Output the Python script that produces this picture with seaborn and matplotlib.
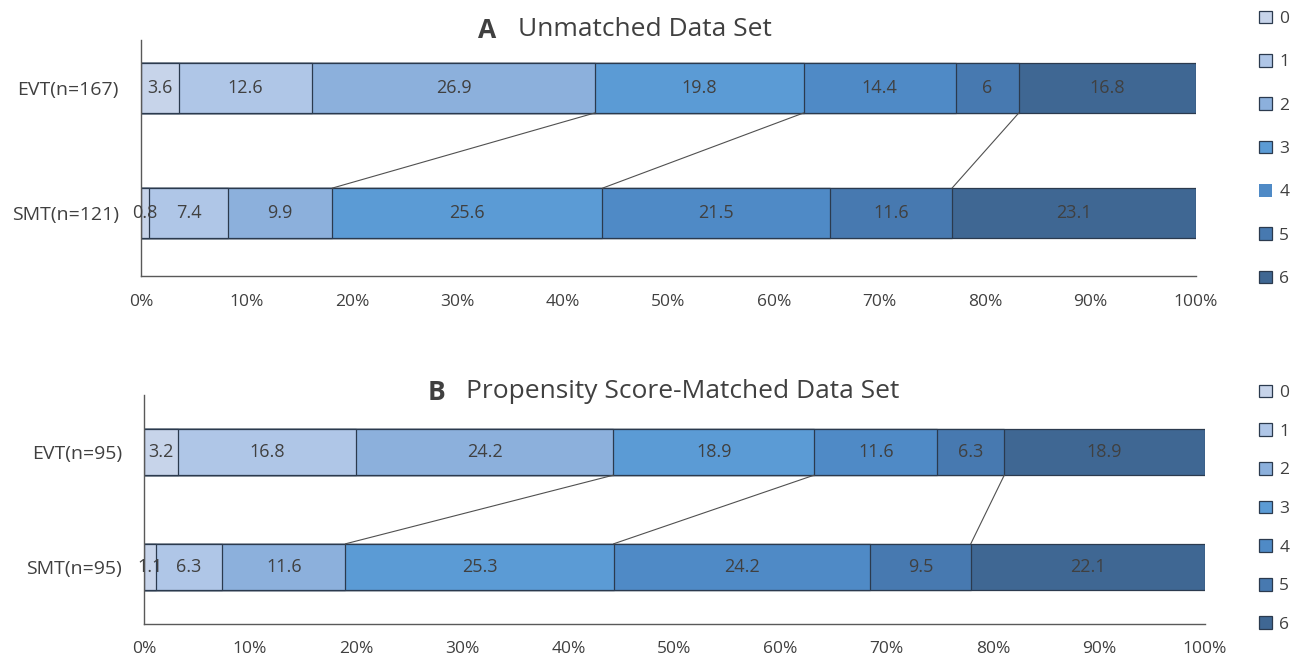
import numpy as np
import seaborn as sns
import matplotlib.pyplot as plt
from matplotlib.patches import Patch

# values (percent per score category 0..6)
scores = ["0", "1", "2", "3", "4", "5", "6"]

groups_a = ["EVT(n=167)", "SMT(n=121)"]
evt_a = [3.6, 12.6, 26.9, 19.8, 14.4, 6, 16.8]
smt_a = [0.8, 7.4, 9.9, 25.6, 21.5, 11.6, 23.1]

groups_b = ["EVT(n=95)", "SMT(n=95)"]
evt_b = [3.2, 16.8, 24.2, 18.9, 11.6, 6.3, 18.9]
smt_b = [1.1, 6.3, 11.6, 25.3, 24.2, 9.5, 22.1]

# score boundaries joined between the two bars
linked = [2, 3, 5]

colors = ["#c7d4ea", "#afc6e7", "#8cb0dc", "#5b9bd5", "#4f8ac6", "#4779b0", "#3f6793"]
edge = "#2b3a4e"
text_col = "#404040"

sns.set_style("white")
plt.rcParams['font.family'] = ['Open Sans', 'DejaVu Sans']


def stacked_panel(ax, groups, rows, ylim, label_pad):
    rows = [np.array(r) / np.sum(r) * 100 for r in rows]
    cums = [np.cumsum(r) for r in rows]
    # draw from the outermost cumulative bar inwards so the segments show
    for k in range(len(scores) - 1, -1, -1):
        sns.barplot(x=[c[k] for c in cums], y=groups, orient="h", color=colors[k],
                    saturation=1, width=0.4, edgecolor=edge, linewidth=0.9,
                    errorbar=None, ax=ax)
    for i, (r, c) in enumerate(zip(rows, cums)):
        lefts = c - r
        for k, v in enumerate(r):
            ax.text(lefts[k] + v / 2, i, f"{v:.1f}".rstrip("0").rstrip("."),
                    ha="center", va="center", fontsize=13, color=text_col)
    for k in linked:
        ax.plot([cums[0][k], cums[1][k]], [0.2, 0.8], color="#505050", lw=0.8)
    ax.set_xlim(0, 100)
    ax.set_ylim(*ylim)
    ax.set_xticks(range(0, 101, 10))
    ax.set_xticklabels([f"{t}%" for t in range(0, 101, 10)])
    ax.tick_params(axis="x", direction="in", length=6, width=1, color="#595959",
                   pad=label_pad, labelsize=12.5, labelcolor=text_col)
    ax.tick_params(axis="y", length=0, pad=16, labelsize=14, labelcolor=text_col)
    ax.set_xlabel("")
    ax.set_ylabel("")
    sns.despine(ax=ax)
    for s in ["left", "bottom"]:
        ax.spines[s].set_color("#595959")
        ax.spines[s].set_linewidth(1)


fig = plt.figure(figsize=(12.96, 6.58), dpi=100)
ax_a = fig.add_axes([0.1088, 0.5805, 0.814, 0.3587])
ax_b = fig.add_axes([0.1111, 0.0517, 0.8187, 0.348])

stacked_panel(ax_a, groups_a, [evt_a, smt_a], (1.5, -0.38), 13)
stacked_panel(ax_b, groups_b, [evt_b, smt_b], (1.5, -0.5), 12)

# titles: bold letter then regular text
fig.text(478 / 1296, 1 - 30 / 658, "A", fontsize=19, fontweight="bold", color=text_col,
         ha="left", va="center")
fig.text(518 / 1296, 1 - 30 / 658, "Unmatched Data Set", fontsize=19, color=text_col,
         ha="left", va="center")
fig.text(428 / 1296, 1 - 392 / 658, "B", fontsize=19, fontweight="bold", color=text_col,
         ha="left", va="center")
fig.text(466 / 1296, 1 - 392 / 658, "Propensity Score-Matched Data Set", fontsize=19,
         color=text_col, ha="left", va="center")

for ax, spacing, top in [(ax_a, 1.55, 1 - 2 / 658), (ax_b, 1.28, 1 - 376 / 658)]:
    handles = []
    for k, s in enumerate(scores):
        ec = "none" if (ax is ax_a and k == 4) else edge
        handles.append(Patch(facecolor=colors[k], edgecolor=ec, linewidth=0.9, label=s))
    fig.legend(handles=handles, loc="upper left", bbox_to_anchor=(0.965, top),
               frameon=False, fontsize=12.5, handlelength=0.75, handleheight=0.75,
               handletextpad=0.4, labelspacing=spacing, borderpad=0,
               labelcolor=text_col)

fig.savefig("out.png", dpi=100)
